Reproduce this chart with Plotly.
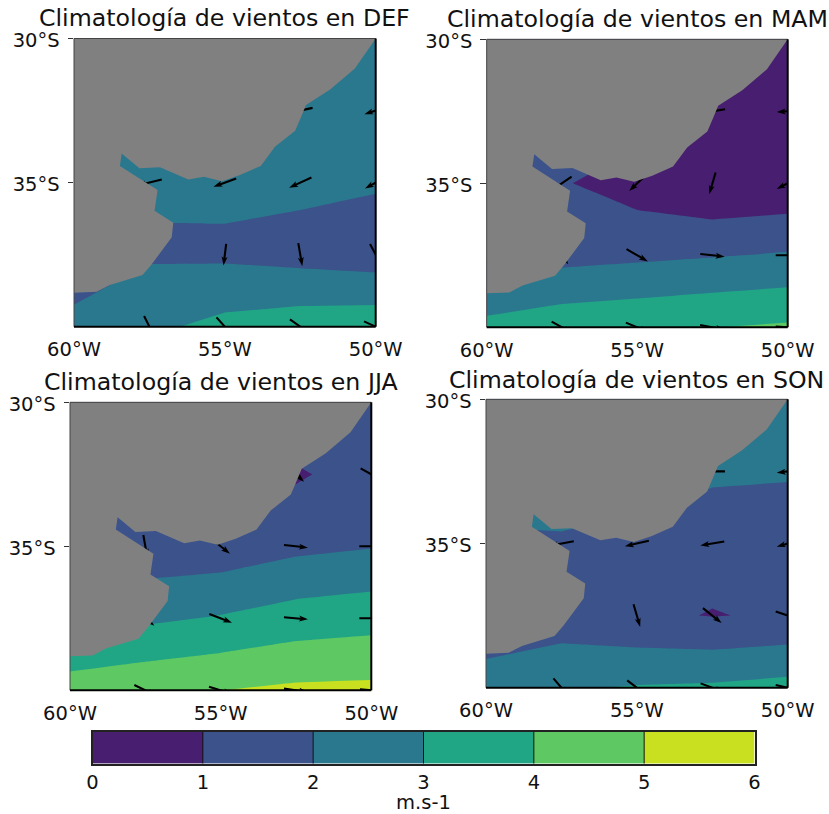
import math
import plotly.graph_objects as go

W, H = 829, 814

LON = [-60, -57.5, -55, -52.5, -50]
LAT = [-30, -32.5, -35, -37.5, -40]
LEVELS = [0, 1, 2, 3, 4, 5, 6]
BAND_COLORS = ["#481f70", "#3b528b", "#2a788e", "#21a685", "#5ec962", "#c8e020"]

SEASONS = ["DEF", "MAM", "JJA", "SON"]

speed_def = [
    [2.5, 2.5, 2.5, 2.5, 2.5],
    [2.3, 2.3, 2.3, 2.5, 2.6],
    [2.1, 2.15, 2.24, 2.22, 2.10],
    [1.5, 1.88, 1.82, 1.64, 1.45],
    [2.22, 2.80, 3.29, 3.55, 3.67],
]
speed_mam = [
    [1.5, 1.5, 1.5, 0.9, 0.5],
    [1.5, 1.5, 1.49, 0.6, 0.5],
    [1.3, 1.08, 0.53, 0.05, 0.2],
    [1.9, 1.66, 1.8, 1.94, 2.09],
    [3.21, 3.64, 3.8, 3.98, 4.14],
]
speed_jja = [
    [1.5, 1.5, 1.5, 1.8, 1.5],
    [1.5, 1.5, 1.5, 0.88, 1.43],
    [1.7, 1.31, 1.38, 1.76, 1.95],
    [3.1, 2.82, 3.08, 3.45, 3.62],
    [4.32, 4.78, 4.995, 5.19, 5.23],
]
speed_son = [
    [2.6, 2.8, 2.6, 2.5, 2.5],
    [2.5, 2.9, 2.58, 2.2, 2.12],
    [1.85, 1.82, 1.6, 1.3, 1.3],
    [1.2, 1.44, 1.15, 0.967, 1.10],
    [2.53, 2.90, 3.07, 3.15, 3.34],
]

# wind vectors (arbitrary quiver units)
Q_LON = [-57.5, -55, -52.5, -50]
Q_LAT = [-32.5, -35, -37.5, -40]
u_def = [[None, None, -74, -68], [-74, -68, -67, -64], [10, -8, 12, 34], [32, 50, 62, 70]]
v_def = [[None, None, -16, -22], [-18, -25, -31, -36], [-50, -65, -69, -64], [-64, -56, -44, -32]]
u_mam = [[None, None, -76, -66], [-58, -48, -19, -66], [38, 64, 73, 72], [62, 68, 74, 72]]
v_mam = [[None, None, -12, -4], [-40, -46, -65, -34], [-54, -37, -8, 0], [-34, -28, -14, -4]]
u_jja = [[None, None, 48, 64], [12, 56, 72, 72], [54, 68, 72, 72], [66, 70, 72, 68]]
v_jja = [[None, None, -44, -36], [-68, -44, -8, 0], [-44, -26, -6, 0], [-32, -22, -10, -6]]
u_son = [[None, None, -76, -66], [-74, -72, -72, -66], [10, 20, 56, 72], [48, 58, 70, 72]]
v_son = [[None, None, 0, -8], [-14, -16, -12, -20], [-50, -68, -45, -24], [-56, -44, -26, -16]]

coast_lon = [-50, -50.69, -51.51, -52.31, -52.45, -52.67, -53.34, -53.81, -54.50, -55.10,
             -55.69, -56.21, -57.15, -57.83, -58.42, -58.48, -57.23, -57.33, -56.71, -56.76,
             -57.43, -57.73, -58.81, -59.25, -60, -60, -50]
coast_lat = [-30, -31.04, -31.77, -32.31, -32.66, -33.20, -33.76, -34.42, -34.74, -34.95,
             -34.80, -34.89, -34.47, -34.50, -33.99, -34.42, -35.26, -35.98, -36.39, -36.90,
             -37.84, -38.21, -38.55, -38.79, -38.82, -30, -30]

speeds = [speed_def, speed_mam, speed_jja, speed_son]
us = [u_def, u_mam, u_jja, u_son]
vs = [v_def, v_mam, v_jja, v_son]

# panel boxes in pixels: x0, x1, y0 (top), y1 (bottom)
BOX = [(74, 375.7, 38.5, 326.7), (486.7, 787.7, 39.3, 327.3),
       (70, 371.3, 402.3, 690.3), (486, 787.7, 399.3, 687.7)]
TITLE_Y = [18, 19, 382, 380]
CBAR = (92.5, 754.5, 731.8, 763.5)

FS_TICK = 19.5
FS_TITLE = 23.7
FAM = "DejaVu Sans"
QPX = 1 / 3  # pixels per quiver unit
SHAFT, HEADW, HEADL, HEADB = 2.1, 6.0, 9.0, 7.5


def dom_x(a, b):
    return [a / W, b / W]


def dom_y(a, b):
    return [1 - b / H, 1 - a / H]


def contour_scale():
    # plotly evaluates a filled band at level + size/2 on a domain of -0.5 .. 6.5
    stops = [[0, BAND_COLORS[0]]]
    for i, c in enumerate(BAND_COLORS):
        stops.append([(i + 1) / 7, c])
    stops.append([1, BAND_COLORS[-1]])
    return stops


def quiver(i):
    x0, x1, y0, y1 = BOX[i]
    sx = (x1 - x0) / 10.0
    sy = (y1 - y0) / 10.0
    xs, ys = [], []
    for r, lat in enumerate(Q_LAT):
        for c, lon in enumerate(Q_LON):
            u, v = us[i][r][c], vs[i][r][c]
            if u is None:
                continue
            L = math.hypot(u, v) * QPX
            ex, ey = u * QPX / L, v * QPX / L
            nx, ny = -ey, ex
            pts = [(-L / 2, SHAFT / 2), (L / 2 - HEADB, SHAFT / 2), (L / 2 - HEADL, HEADW / 2),
                   (L / 2, 0), (L / 2 - HEADL, -HEADW / 2), (L / 2 - HEADB, -SHAFT / 2),
                   (-L / 2, -SHAFT / 2), (-L / 2, SHAFT / 2)]
            for a, b in pts:
                xs.append(lon + (a * ex + b * nx) / sx)
                ys.append(lat + (a * ey + b * ny) / sy)
            xs.append(None)
            ys.append(None)
    return xs, ys


fig = go.Figure()
layout = dict(width=W, height=H, margin=dict(l=0, r=0, t=0, b=0, autoexpand=False), paper_bgcolor="white",
              plot_bgcolor="white", showlegend=False, font=dict(family=FAM, size=FS_TICK, color="#111"))
annotations, shapes = [], []

for i, season in enumerate(SEASONS):
    suf = "" if i == 0 else str(i + 1)
    xa, ya = "x" + suf, "y" + suf
    x0, x1, y0, y1 = BOX[i]
    fig.add_trace(go.Contour(x=LON, y=LAT, z=speeds[i], xaxis=xa, yaxis=ya, showscale=False,
                             autocontour=False,
                             contours=dict(start=LEVELS[0], end=LEVELS[-1], size=1, coloring="fill",
                                           showlines=False),
                             line=dict(width=0, smoothing=0), colorscale=contour_scale(),
                             name=season, hoverinfo="skip"))
    qx, qy = quiver(i)
    fig.add_trace(go.Scatter(x=qx, y=qy, xaxis=xa, yaxis=ya, mode="lines", fill="toself",
                             fillcolor="black", line=dict(width=0, color="black"), hoverinfo="skip"))
    fig.add_trace(go.Scatter(x=coast_lon, y=coast_lat, xaxis=xa, yaxis=ya, mode="lines", fill="toself",
                             fillcolor="#808080", line=dict(width=0, color="#808080"), hoverinfo="skip"))
    layout["xaxis" + suf] = dict(domain=dom_x(x0, x1), range=[-60, -50], anchor=ya, tickvals=[-60, -55, -50],
                                 ticktext=["60°W", "55°W", "50°W"], ticks="outside", ticklen=5,
                                 tickcolor="rgba(0,0,0,0)", showgrid=False, zeroline=False, showline=False,
                                 automargin=False,
                                 tickfont=dict(family=FAM, size=FS_TICK, color="#111"))
    layout["yaxis" + suf] = dict(domain=dom_y(y0, y1), range=[-40, -30], anchor=xa, tickvals=[-30, -35],
                                 ticktext=["30°S", "35°S"], ticks="outside", ticklen=5.5, tickwidth=1,
                                 tickcolor="#333", showgrid=False, zeroline=False, showline=False,
                                 automargin=False, ticklabelstandoff=4, ticklabelshift=2,
                                 tickfont=dict(family=FAM, size=FS_TICK, color="#111"))
    annotations.append(dict(text=f"Climatología de vientos en {season}", xref=f"{xa} domain", x=0.5,
                            yref="paper", y=1 - TITLE_Y[i] / H, yanchor="middle", xanchor="center",
                            showarrow=False, font=dict(family=FAM, size=FS_TITLE, color="#111")))
    dx, dy = f"{xa} domain", f"{ya} domain"
    for (a, b, c, d, w, col) in [(0, 1, 1, 1, 1, "#444"), (0, 0, 0, 1, 1, "#444"),
                                 (0, 1, 0, 0, 2, "black"), (1, 1, 0, 1, 2, "black")]:
        shapes.append(dict(type="line", xref=dx, yref=dy, x0=a, x1=b, y0=c, y1=d,
                           line=dict(color=col, width=w), layer="above"))

# colour bar as its own small axis
cb_x = [(LEVELS[k] + LEVELS[k + 1]) / 2 for k in range(len(BAND_COLORS))]
cb_scale = []
for k, c in enumerate(BAND_COLORS):
    cb_scale += [[k / 6, c], [(k + 1) / 6, c]]
fig.add_trace(go.Heatmap(x=cb_x, y=[0], z=[cb_x], zmin=0, zmax=6, colorscale=cb_scale, showscale=False,
                         xaxis="x5", yaxis="y5", hoverinfo="skip"))
layout["xaxis5"] = dict(domain=dom_x(CBAR[0], CBAR[1]), range=[0, 6], anchor="y5", tickvals=LEVELS,
                        ticks="", showgrid=False, zeroline=False,
                        showline=True, mirror=True, linecolor="#222", linewidth=1.5, automargin=False,
                        title=dict(text="m.s-1", standoff=10, font=dict(family=FAM, size=FS_TICK, color="#111")),
                        tickfont=dict(family=FAM, size=FS_TICK, color="#111"))
layout["yaxis5"] = dict(domain=dom_y(CBAR[2], CBAR[3]), range=[-0.5, 0.5], anchor="x5", showticklabels=False,
                        ticks="", showgrid=False, zeroline=False, showline=True, mirror=True, automargin=False,
                        linecolor="#222", linewidth=1.5)
for lv in LEVELS[1:-1]:
    shapes.append(dict(type="line", xref="x5", yref="y5 domain", x0=lv, x1=lv, y0=0, y1=1,
                       line=dict(color="#111", width=1), layer="above"))

layout["annotations"] = annotations
layout["shapes"] = shapes
fig.update_layout(**layout)
fig.write_html("out.html", config=dict(displayModeBar=False),
               post_script="document.body.style.margin='0';document.documentElement.style.overflow='hidden';")
